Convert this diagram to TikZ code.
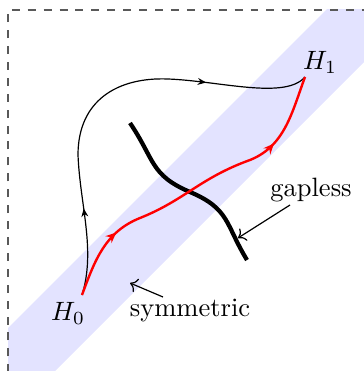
\documentclass[tikz,border=0pt]{standalone}
\usetikzlibrary{arrows.meta,decorations.markings}
\begin{document}
\begin{tikzpicture}[x=0.377pt,y=-0.377pt,
  thinpath/.style={line width=0.45pt},
  redpath/.style={red,line width=0.9pt},
  gappath/.style={line width=1.6pt},
  lbl/.style={inner sep=1pt}]
\useasboundingbox (0,0) rectangle (364,371);
% band
\begin{scope}
\clip (8,10) rectangle (420,420);
\fill[blue!11] (-100,436) -- (436,-100) -- (526,-100) -- (-100,526) -- cycle;
\end{scope}
% frame
\draw[dashed,line width=0.4pt,black!65] (8,420) -- (8,10) -- (420,10);
% points
\coordinate (h0) at (82,295);
\coordinate (h1) at (305,77);
\coordinate (r1) at (140,218);
\coordinate (r2) at (250,160);
\coordinate (t1) at (78,155);
\coordinate (t2) at (168,79);
\coordinate (g0) at (130,123);
\coordinate (g1) at (190,192);
\coordinate (g2) at (247,260);
% labels
\node[lbl] (H0) at (68,313) {$H_0$};
\node[lbl] (H1) at (320,62) {$H_1$};
\node[lbl] (gl) at (311,190) {gapless};
\node[lbl] (sy) at (190,311) {symmetric};
% gapless line
\draw[gappath] (g0) .. controls (155,160) and (150,175) .. (g1)
  .. controls (230,209) and (225,224) .. (g2);
% thin path
\draw[thinpath,
  postaction={decorate,decoration={markings,
    mark=at position 0.21 with {\arrow{Stealth[length=3.2pt,width=2.6pt]}},
    mark=at position 0.755 with {\arrow{Stealth[length=3.2pt,width=2.6pt]}}}}]
  (h0) .. controls (96,250) and (80,205) .. (t1)
  .. controls (78,100) and (118,77) .. (t2)
  .. controls (220,81) and (285,100) .. (h1);
% red path
\draw[redpath,
  postaction={decorate,decoration={markings,
    mark=at position 0.22 with {\arrow{Stealth[length=4pt,width=3.4pt]}},
    mark=at position 0.775 with {\arrow{Stealth[length=4pt,width=3.4pt]}}}}]
  (h0) .. controls (95,260) and (105,232) .. (r1)
  .. controls (185,200) and (200,178) .. (r2)
  .. controls (285,146) and (292,112) .. (h1);
% label arrows
\coordinate (gA) at (290,205);
\coordinate (gB) at (238,238);
\coordinate (sA) at (163,297);
\coordinate (sB) at (130,283);
\draw[thinpath,->] (gA) -- (gB);
\draw[thinpath,->] (sA) -- (sB);
\end{tikzpicture}
\end{document}
